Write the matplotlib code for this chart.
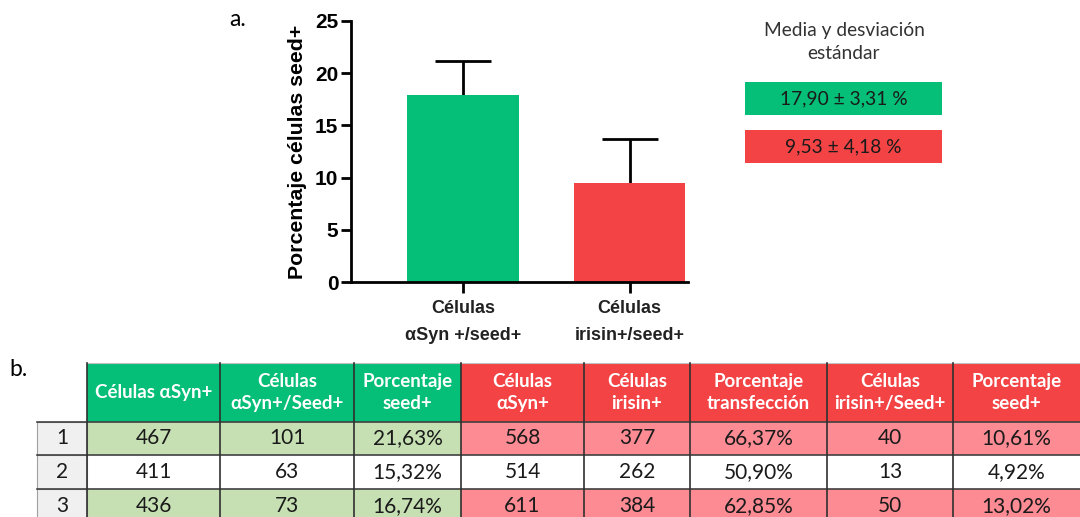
import numpy as np
import matplotlib.pyplot as plt
from matplotlib.patches import Rectangle

# --- datos del grafico ---
grupos = ['Células\nαSyn +/seed+', 'Células\nirisin+/seed+']
medias = [17.90, 9.53]
desv = [3.31, 4.18]
textos_media = ['17,90 ± 3,31 %', '9,53 ± 4,18 %']

# --- datos de la tabla ---
encabezados = ['Células αSyn+', 'Células\nαSyn+/Seed+', 'Porcentaje\nseed+',
               'Células\nαSyn+', 'Células\nirisin+', 'Porcentaje\ntransfección',
               'Células\nirisin+/Seed+', 'Porcentaje\nseed+']
filas = ['1', '2', '3']
asyn = ['467', '411', '436']
asyn_seed = ['101', '63', '73']
pct_seed_a = ['21,63%', '15,32%', '16,74%']
asyn_b = ['568', '514', '611']
irisin = ['377', '262', '384']
pct_transf = ['66,37%', '50,90%', '62,85%']
irisin_seed = ['40', '13', '50']
pct_seed_b = ['10,61%', '4,92%', '13,02%']

verde = '#05BE77'
rojo = '#F44345'
verde_claro = '#C6E0B4'
rojo_claro = '#FC8B93'

W, H = 1080, 517
fig = plt.figure(figsize=(W / 100, H / 100), dpi=100)

# capa de fondo en pixeles para la tabla y las cajas
bg = fig.add_axes([0, 0, 1, 1])
bg.set_xlim(0, W)
bg.set_ylim(H, 0)
bg.axis('off')

# --- grafico de barras ---
ax = fig.add_axes([351 / W, (H - 282) / H, (688 - 351) / W, (282 - 21) / H])
x = np.arange(len(grupos))
ax.bar(x, medias, width=0.67, color=[verde, rojo], zorder=2)
eb = ax.errorbar(x, medias, yerr=[np.zeros(len(desv)), desv], fmt='none',
                 ecolor='black', elinewidth=2, capsize=20, capthick=2, zorder=1)
# solo la barra de error superior
eb[1][0].set_visible(False)
ax.set_xlim(-0.67, 1.35)
ax.set_ylim(0, 25)
ax.set_yticks([0, 5, 10, 15, 20, 25])
ax.set_xticks(x)
ax.set_xticklabels(grupos, fontsize=13, fontweight='bold', color='#222222',
                   family='Liberation Sans', linespacing=1.75)
for lab in ax.get_yticklabels():
    lab.set_fontsize(15)
    lab.set_fontweight('bold')
    lab.set_family('Liberation Sans')
ax.spines['top'].set_visible(False)
ax.spines['right'].set_visible(False)
ax.spines['left'].set_linewidth(2)
ax.spines['bottom'].set_linewidth(2)
ax.tick_params(axis='y', length=7, width=2, pad=2)
ax.tick_params(axis='x', length=8, width=2, pad=5)
ax.set_ylabel('Porcentaje células seed+', fontsize=15.3, family='Liberation Sans',
              fontweight='bold', labelpad=6)

bg.text(229, 19, 'a.', fontsize=16.5, family='Lato', va='center', ha='left')
bg.text(9, 369, 'b.', fontsize=16.5, family='Lato', va='center', ha='left')

# --- cajas de media y desviacion ---
bg.text(844, 42, 'Media y desviación\nestándar', fontsize=13.8, family='Lato',
        ha='center', va='center', color='#333333', linespacing=1.45)
for i, (t, col) in enumerate(zip(textos_media, [verde, rojo])):
    y0 = 82 + i * 48
    bg.add_patch(Rectangle((745, y0), 197, 33, facecolor=col, edgecolor='none'))
    bg.text(843.5, y0 + 16.5, t, fontsize=13.8, family='Lato', ha='center',
            va='center', color='#1a1a1a')

# --- tabla ---
bordes = [87, 220, 354, 461, 584, 690, 827, 953, 1080]
y_enc = (363, 422)
y_filas = [422, 455, 489, 523]
columnas = [asyn, asyn_seed, pct_seed_a, asyn_b, irisin, pct_transf,
            irisin_seed, pct_seed_b]

for j, enc in enumerate(encabezados):
    x0, x1 = bordes[j], bordes[j + 1]
    col = verde if j < 3 else rojo
    bg.add_patch(Rectangle((x0, y_enc[0]), x1 - x0, y_enc[1] - y_enc[0],
                           facecolor=col, edgecolor='none'))
    bg.text((x0 + x1) / 2, (y_enc[0] + y_enc[1]) / 2, enc, fontsize=13.5,
            family='Lato', fontweight='bold', color='white', ha='center',
            va='center', linespacing=1.4)
    for i in range(len(filas)):
        y0, y1 = y_filas[i], y_filas[i + 1]
        if i == 1:
            fc = 'white'
        else:
            fc = verde_claro if j < 3 else rojo_claro
        bg.add_patch(Rectangle((x0, y0), x1 - x0, y1 - y0, facecolor=fc,
                               edgecolor='none'))
        bg.text((x0 + x1) / 2, (y0 + y1) / 2, columnas[j][i], fontsize=15,
                family='Lato', color='#1a1a1a', ha='center', va='center')

# columna de indices
for i, f in enumerate(filas):
    y0, y1 = y_filas[i], y_filas[i + 1]
    bg.add_patch(Rectangle((37, y0), 50, y1 - y0, facecolor='#F0F0F0',
                           edgecolor='#A0A0A0', linewidth=0.8))
    bg.text(62, (y0 + y1) / 2, f, fontsize=15, family='Lato',
            color='#1a1a1a', ha='center', va='center')

# lineas de la tabla
for yy in y_filas[:3]:
    bg.plot([37, W], [yy, yy], color='#404040', linewidth=1.2)
bg.plot([87, W], [y_enc[0], y_enc[0]], color='#C0C0C0', linewidth=0.8)
for xx in bordes[:-1]:
    bg.plot([xx, xx], [y_enc[0], H], color='#303030', linewidth=1.2)

fig.savefig('out.png', dpi=100)
